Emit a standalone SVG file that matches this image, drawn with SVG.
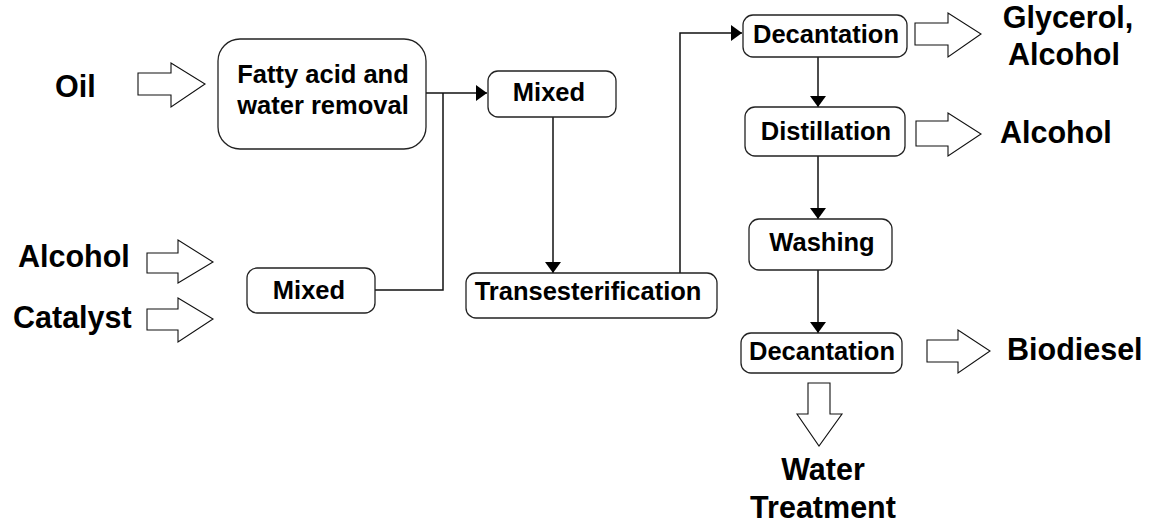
<svg xmlns="http://www.w3.org/2000/svg" width="1151" height="525" viewBox="0 0 1151 525">
  <style>
    .box { fill: #ffffff; stroke: #222222; stroke-width: 1.3; }
    .blk { fill: #ffffff; stroke: #111111; stroke-width: 1.1; stroke-linejoin: miter; }
    .con { fill: none; stroke: #111111; stroke-width: 1.5; }
    .bt { font-family: "Liberation Sans", Arial, sans-serif; font-weight: bold; font-size: 25.5px; fill: #000000; text-anchor: middle; }
    .lt { font-family: "Liberation Sans", Arial, sans-serif; font-weight: bold; font-size: 30.5px; fill: #000000; }
  </style>
  <defs>
    <marker id="ah" markerUnits="userSpaceOnUse" markerWidth="12" markerHeight="16" refX="11" refY="8" orient="auto">
      <path d="M0,0 L11,8 L0,16 Z" fill="#000000"/>
    </marker>
  </defs>
  <rect width="1151" height="525" fill="#ffffff"/>

  <g id="connectors">
    <polyline class="con" points="426,93 487,93" marker-end="url(#ah)"/>
    <polyline class="con" points="375,290 443,290 443,93"/>
    <polyline class="con" points="553,117 553,273" marker-end="url(#ah)"/>
    <polyline class="con" points="680,273 680,33 742,33" marker-end="url(#ah)"/>
    <polyline class="con" points="818,57 818,107" marker-end="url(#ah)"/>
    <polyline class="con" points="818,156 818,219" marker-end="url(#ah)"/>
    <polyline class="con" points="818,270 818,333" marker-end="url(#ah)"/>
  </g>

  <g id="oil">
    <text class="lt" x="55" y="97">Oil</text>
    <polygon class="blk" points="138,73 171,73 171,63 205,84 171,107 171,95 138,95"/>
  </g>
  <g id="alcohol-in">
    <text class="lt" x="18" y="267">Alcohol</text>
    <polygon class="blk" points="147,253 178,253 178,240 213,262 178,283 178,273 147,273"/>
  </g>
  <g id="catalyst-in">
    <text class="lt" x="13" y="328">Catalyst</text>
    <polygon class="blk" points="147,309 178,309 178,298 213,319 178,342 178,330 147,330"/>
  </g>

  <g id="fatty">
    <rect class="box" x="218" y="39" width="208" height="110" rx="22" ry="22"/>
    <text class="bt" x="323" y="83">Fatty acid and</text>
    <text class="bt" x="323" y="114">water removal</text>
  </g>
  <g id="mixed-top">
    <rect class="box" x="488" y="71" width="128" height="46" rx="10" ry="10"/>
    <text class="bt" x="549" y="101">Mixed</text>
  </g>
  <g id="mixed-bottom">
    <rect class="box" x="247" y="268" width="128" height="45" rx="10" ry="10"/>
    <text class="bt" x="309" y="299">Mixed</text>
  </g>
  <g id="transesterification">
    <rect class="box" x="466" y="273" width="251" height="45" rx="10" ry="10"/>
    <text class="bt" x="588" y="300">Transesterification</text>
  </g>
  <g id="decantation-1">
    <rect class="box" x="743" y="15" width="164" height="42" rx="10" ry="10"/>
    <text class="bt" x="826" y="43">Decantation</text>
    <polygon class="blk" points="915,23 948,23 948,13 981,34 948,57 948,45 915,45"/>
    <text class="lt" x="1068" y="28" text-anchor="middle">Glycerol,</text>
    <text class="lt" x="1064" y="65" text-anchor="middle">Alcohol</text>
  </g>
  <g id="distillation">
    <rect class="box" x="745" y="107" width="160" height="49" rx="10" ry="10"/>
    <text class="bt" x="826" y="140">Distillation</text>
    <polygon class="blk" points="916,121 948,121 948,113 981,134 948,156 948,146 916,146"/>
    <text class="lt" x="1000" y="143">Alcohol</text>
  </g>
  <g id="washing">
    <rect class="box" x="749" y="219" width="143" height="51" rx="10" ry="10"/>
    <text class="bt" x="822" y="251">Washing</text>
  </g>
  <g id="decantation-2">
    <rect class="box" x="741" y="333" width="161" height="40" rx="10" ry="10"/>
    <text class="bt" x="822" y="360">Decantation</text>
    <polygon class="blk" points="927,340 958,340 958,330 990,351 958,373 958,362 927,362"/>
    <text class="lt" x="1007" y="360">Biodiesel</text>
    <polygon class="blk" points="808,383 830,383 830,414 842,414 819,446 797,414 808,414"/>
    <text class="lt" x="823" y="480" text-anchor="middle">Water</text>
    <text class="lt" x="823" y="518" text-anchor="middle">Treatment</text>
  </g>
</svg>
